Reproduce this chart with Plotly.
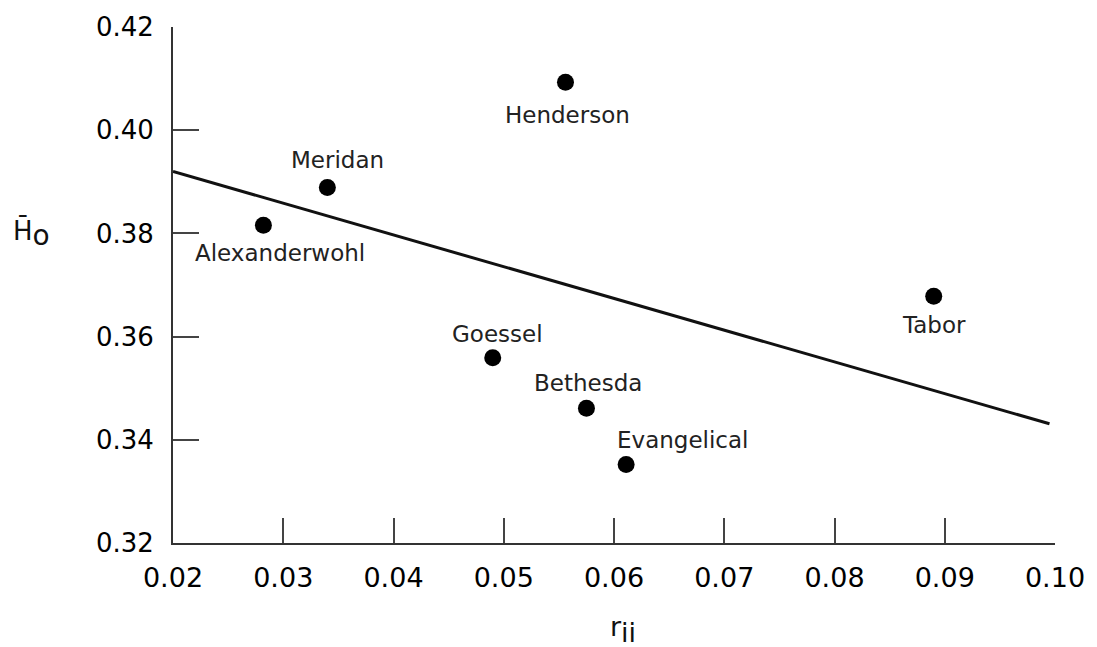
import plotly.graph_objects as go

# Data
communities = ["Alexanderwohl", "Meridan", "Henderson", "Goessel", "Bethesda", "Evangelical", "Tabor"]
r_ii = [0.0282, 0.0340, 0.0556, 0.0490, 0.0575, 0.0611, 0.0890]
H_o = [0.3816, 0.3889, 0.4093, 0.3559, 0.3461, 0.3352, 0.3678]

# Regression line endpoints
line_x = [0.0200, 0.0995]
line_y = [0.3920, 0.3431]

x_ticks = [0.02, 0.03, 0.04, 0.05, 0.06, 0.07, 0.08, 0.09, 0.10]
x_ticklabels = ["0.02", "0.03", "0.04", "0.05", "0.06", "0.07", "0.08", "0.09", "0.10"]
y_ticks = [0.32, 0.34, 0.36, 0.38, 0.40, 0.42]
y_ticklabels = ["0.32", "0.34", "0.36", "0.38", "0.40", "0.42"]

# label offsets in pixels (dx, dy) relative to each point
label_shift = {
    "Alexanderwohl": (17, -28),
    "Meridan": (10, 27),
    "Henderson": (2, -33),
    "Goessel": (5, 24),
    "Bethesda": (2, 25),
    "Evangelical": (56, 25),
    "Tabor": (0, -29),
}

FONT = "DejaVu Sans"
INK = "#111111"

fig = go.Figure()
fig.add_trace(go.Scatter(x=line_x, y=line_y, mode="lines",
                         line=dict(color=INK, width=3), showlegend=False, hoverinfo="skip"))
fig.add_trace(go.Scatter(x=r_ii, y=H_o, mode="markers",
                         marker=dict(color="#000000", size=17), showlegend=False,
                         text=communities))

for name, x, y in zip(communities, r_ii, H_o):
    dx, dy = label_shift[name]
    fig.add_annotation(x=x, y=y, text=name, showarrow=False, xshift=dx, yshift=dy,
                       xanchor="center", yanchor="middle",
                       font=dict(family=FONT, size=23, color="#222222"))

# axis titles
fig.add_annotation(xref="paper", yref="paper", x=(629 - 173) / (1066 - 173), y=-(630 - 543) / (543 - 22),
                   xanchor="center", yanchor="middle",
                   text="r<sub><span style='font-size:27px'>ii</span></sub>", showarrow=False,
                   font=dict(family=FONT, size=27, color="#111111"))
fig.add_annotation(xref="paper", yref="paper", x=-(173 - 30) / (1066 - 173), y=(543 - 230) / (543 - 22),
                   xanchor="center", yanchor="middle",
                   text="H\u0304<sub><span style='font-size:28px'>o</span></sub>", showarrow=False,
                   font=dict(family=FONT, size=26, color="#111111"))

fig.update_xaxes(range=[0.02, 0.10], tickvals=x_ticks, ticktext=x_ticklabels,
                 showgrid=False, zeroline=False, showline=True, linecolor="#333333", linewidth=2,
                 ticks="inside", ticklen=25, tickwidth=1.5, tickcolor="#444444",
                 ticklabelstandoff=10,
                 tickfont=dict(family=FONT, size=27, color="#000000"))
fig.update_yaxes(range=[0.32, 0.42], tickvals=y_ticks, ticktext=y_ticklabels,
                 showgrid=False, zeroline=False, showline=True, linecolor="#333333", linewidth=2,
                 ticks="inside", ticklen=26, tickwidth=1.5, tickcolor="#444444",
                 ticklabelstandoff=12,
                 tickfont=dict(family=FONT, size=26, color="#000000"))

fig.update_layout(width=1097, height=647,
                  margin=dict(l=173, r=31, t=22, b=104, pad=0),
                  plot_bgcolor="white", paper_bgcolor="white",
                  font=dict(family=FONT))

fig.write_html("out.html", config={"displayModeBar": False},
               post_script="document.body.style.margin='0';document.body.style.overflow='hidden';"
                           "document.documentElement.style.overflow='hidden';")
